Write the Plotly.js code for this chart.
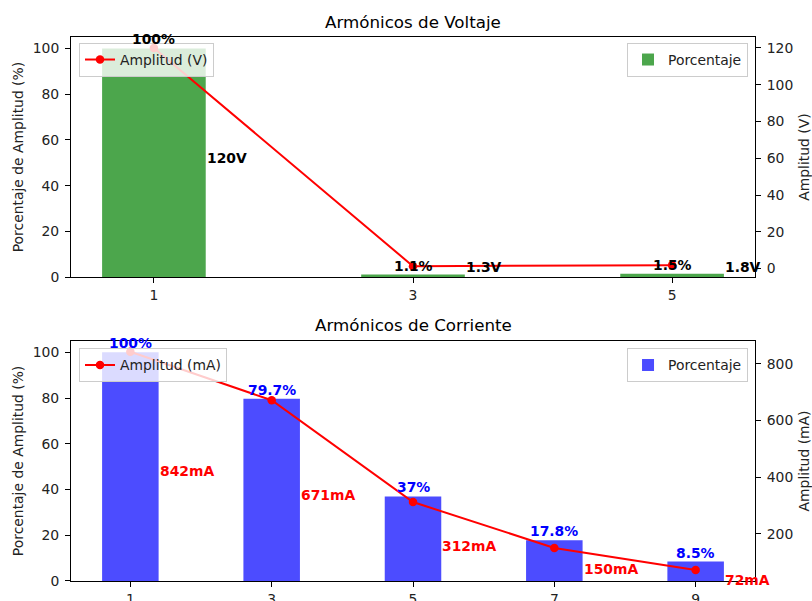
<!DOCTYPE html>
<html>
<head>
<meta charset="utf-8">
<script src="https://cdn.plot.ly/plotly-3.0.1.min.js"></script>
<style>html,body{margin:0;padding:0;background:#fff}#chart{width:812px;height:601px}</style>
</head>
<body>
<div id="chart"></div>
<script>
// ---- data ----
const harmV = [1, 3, 5];
const pctV = [100, 1.1, 1.5];
const ampV = [120, 1.3, 1.8];
const harmI = [1, 3, 5, 7, 9];
const pctI = [100, 79.7, 37, 17.8, 8.5];
const ampI = [842, 671, 312, 150, 72];
const tickV = [1, 3, 5];
const tickI = [1, 3, 5, 7, 9];
const tickPct = [0, 20, 40, 60, 80, 100];
const tickAmpV = [0, 20, 40, 60, 80, 100, 120];
const tickAmpI = [200, 400, 600, 800];

const FONT = 'DejaVu Sans, Verdana, sans-serif';
const TXT = '#222';
const barW = 0.8;

const traces = [
  {type: 'bar', x: harmV, y: pctV, width: barW, xaxis: 'x', yaxis: 'y',
   marker: {color: 'rgba(0,128,0,0.7)', line: {width: 0}}, name: 'Porcentaje', legend: 'legend2', hoverinfo: 'skip'},
  {type: 'scatter', mode: 'lines+markers', x: harmV, y: ampV, xaxis: 'x', yaxis: 'y2',
   line: {color: '#ff0000', width: 2}, marker: {color: '#ff0000', size: 8.5}, name: 'Amplitud (V)', legend: 'legend', cliponaxis: false},
  {type: 'bar', x: harmI, y: pctI, width: barW, xaxis: 'x2', yaxis: 'y3',
   marker: {color: 'rgba(0,0,255,0.7)', line: {width: 0}}, name: 'Porcentaje', legend: 'legend4', hoverinfo: 'skip'},
  {type: 'scatter', mode: 'lines+markers', x: harmI, y: ampI, xaxis: 'x2', yaxis: 'y4',
   line: {color: '#ff0000', width: 2}, marker: {color: '#ff0000', size: 8.5}, name: 'Amplitud (mA)', legend: 'legend3', cliponaxis: false}
];

const annotations = [];
harmV.forEach((h, i) => {
  annotations.push({x: h, y: pctV[i], xref: 'x', yref: 'y', text: pctV[i] + '%', showarrow: false,
    xanchor: 'center', yanchor: 'bottom', font: {family: FONT, size: 13.9, color: '#000', weight: 'bold'}, borderpad: 0});
  annotations.push({x: h + barW / 2, y: ampV[i] / 2, xref: 'x', yref: 'y2', text: ampV[i] + 'V', showarrow: false,
    xanchor: 'left', yanchor: 'middle', font: {family: FONT, size: 13.9, color: '#000', weight: 'bold'}, borderpad: 0});
});
harmI.forEach((h, i) => {
  annotations.push({x: h, y: pctI[i], xref: 'x2', yref: 'y3', text: pctI[i] + '%', showarrow: false,
    xanchor: 'center', yanchor: 'bottom', font: {family: FONT, size: 13.9, color: '#0000ff', weight: 'bold'}, borderpad: 0});
  annotations.push({x: h + barW / 2, y: ampI[i] / 2, xref: 'x2', yref: 'y4', text: ampI[i] + 'mA', showarrow: false,
    xanchor: 'left', yanchor: 'middle', font: {family: FONT, size: 13.9, color: '#ff0000', weight: 'bold'}, borderpad: 0});
});
annotations.push({x: 0.5, y: 1.0276, xref: 'paper', yref: 'paper', text: 'Armónicos de Voltaje', showarrow: false,
  xanchor: 'center', yanchor: 'middle', font: {family: FONT, size: 16.7, color: '#000'}});
annotations.push({x: 0.5, y: 0.4703, xref: 'paper', yref: 'paper', text: 'Armónicos de Corriente', showarrow: false,
  xanchor: 'center', yanchor: 'middle', font: {family: FONT, size: 16.7, color: '#000'}});

const axBase = {showline: true, linecolor: '#000', linewidth: 1, ticks: 'outside', ticklen: 5, tickwidth: 1, automargin: false,
  tickcolor: '#000', showgrid: false, zeroline: false, tickfont: {family: FONT, size: 13.9, color: TXT}, fixedrange: true};
const legBase = {bgcolor: 'rgba(255,255,255,0.8)', bordercolor: '#cccccc', borderwidth: 1,
  font: {family: FONT, size: 13.9, color: TXT}, xref: 'paper', yref: 'paper', yanchor: 'top'};
const ttl = (t, s) => ({text: t, font: {family: FONT, size: 13.9, color: TXT}, standoff: s});

const layout = {
  width: 812, height: 601,
  margin: {l: 71, r: 57, t: 37, b: 20.3},
  paper_bgcolor: '#fff', plot_bgcolor: '#fff',
  font: {family: FONT, color: TXT},
  showlegend: true,
  xaxis: Object.assign({}, axBase, {domain: [0, 1], anchor: 'y', range: [0.36, 5.64], tickmode: 'array', tickvals: tickV, mirror: true}),
  yaxis: Object.assign({}, axBase, {domain: [0.5586, 1], anchor: 'x', range: [0, 105], tickmode: 'array', tickvals: tickPct, mirror: true,
    ticklabelstandoff: 3, title: ttl('Porcentaje de Amplitud (%)', 5)}),
  yaxis2: Object.assign({}, axBase, {overlaying: 'y', side: 'right', anchor: 'x', range: [-4.64, 125.93], tickmode: 'array', tickvals: tickAmpV,
    showline: false, ticklabelstandoff: 3, title: ttl('Amplitud (V)', 7)}),
  xaxis2: Object.assign({}, axBase, {domain: [0, 1], anchor: 'y3', range: [0.16, 9.84], tickmode: 'array', tickvals: tickI, mirror: true}),
  yaxis3: Object.assign({}, axBase, {domain: [0, 0.4414], anchor: 'x2', range: [0, 105], tickmode: 'array', tickvals: tickPct, mirror: true,
    ticklabelstandoff: 3, title: ttl('Porcentaje de Amplitud (%)', 5)}),
  yaxis4: Object.assign({}, axBase, {overlaying: 'y3', side: 'right', anchor: 'x2', range: [33.5, 880.5], tickmode: 'array', tickvals: tickAmpI,
    showline: false, ticklabelstandoff: 3, title: ttl('Amplitud (mA)', 7)}),
  legend: Object.assign({}, legBase, {x: 0.0117, y: 0.989, xanchor: 'left'}),
  legend2: Object.assign({}, legBase, {x: 0.9898, y: 0.989, xanchor: 'right'}),
  legend3: Object.assign({}, legBase, {x: 0.0117, y: 0.4274, xanchor: 'left'}),
  legend4: Object.assign({}, legBase, {x: 0.9898, y: 0.4274, xanchor: 'right'}),
  annotations: annotations
};

Plotly.newPlot('chart', traces, layout, {displayModeBar: false, staticPlot: true});
</script>
</body>
</html>
